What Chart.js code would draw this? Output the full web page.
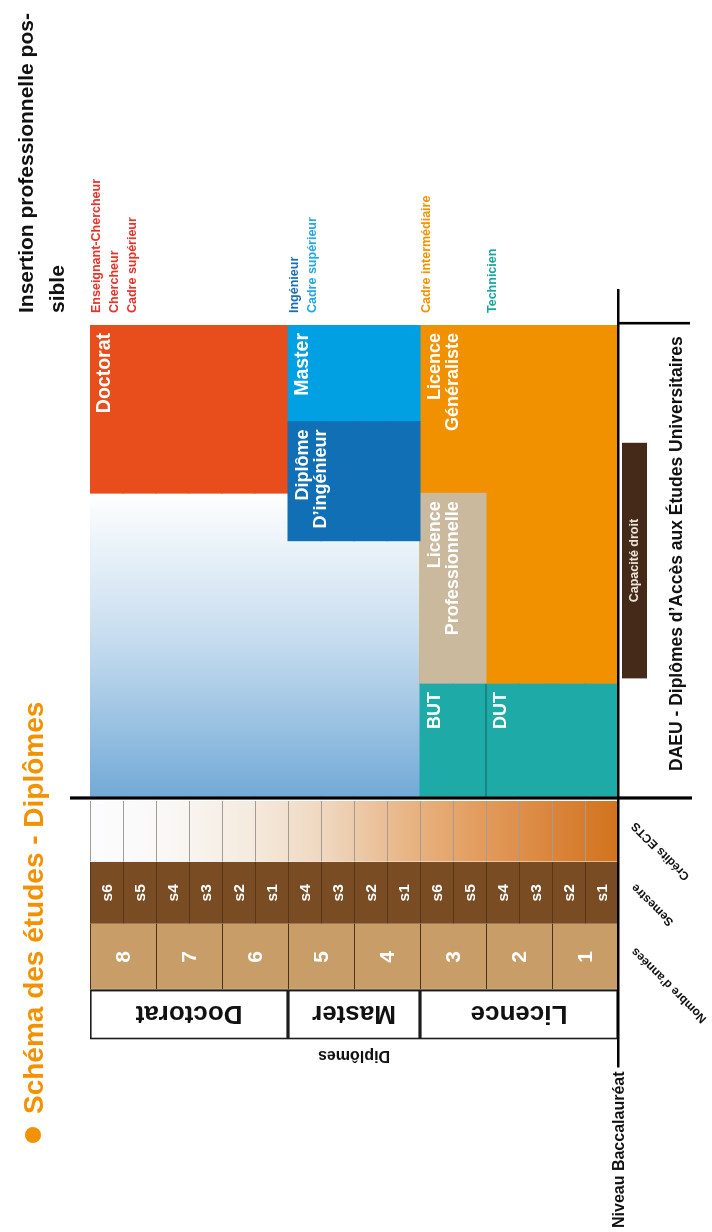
<!DOCTYPE html>
<html><head><meta charset="utf-8">
<script src="https://cdn.jsdelivr.net/npm/chart.js@4.4.1/dist/chart.umd.min.js"></script>
<style>
html,body{margin:0;padding:0;background:#fff;}
body{width:712px;height:1232px;overflow:hidden;position:relative;}
#wrap{position:absolute;left:0;top:0;width:1232px;height:712px;transform-origin:0 0;transform:translate(0,1232px) rotate(-90deg);}
canvas{display:block;}
</style></head><body>
<div id="wrap"><canvas id="c" width="1232" height="712"></canvas></div>
<script>
// ---------- DATA ----------
// vertical levels, bottom to top (two access routes below the baccalaureate, then 16 semesters)
const levels = ['DAEU','Capacité droit','S1','S2','S3','S4','S5','S6','S7','S8','S9','S10','S11','S12','S13','S14','S15','S16'];
const semesterLabels = ['s1','s2','s3','s4','s5','s6','s1','s2','s3','s4','s1','s2','s3','s4','s5','s6'];
const yearLabels = ['1','2','3','4','5','6','7','8'];
const diplomaNames = ['Licence','Master','Doctorat'];
const diplomaFirstSem = [1,7,11];
const diplomaLastSem = [6,10,16];
const programNames = ['DUT','BUT','Licence\nProfessionnelle','Licence\nGénéraliste','Diplôme\nD’ingénieur','Master','Doctorat'];
const programFirstSem = [1,5,5,1,7,7,11];
const programLastSem = [4,6,6,6,10,10,16];
const programFrom = [0,0,23.8,23.8,54.2,79.5,64.3];
const programTo = [23.8,23.8,64.3,100,79.5,100,100];
const pursuitSem = [7,16];
const pursuitRange = [0,64.3];
const capaciteRange = [25,75];
const careerGroups = [['Enseignant-Chercheur','Chercheur','Cadre supérieur'],['Ingénieur','Cadre supérieur'],['Cadre intermédiaire'],['Technicien']];
const careerTopSem = [16,10,6,4];
const tableColumns = ['Diplômes','Nombre d’années','Semestre','Crédits ECTS'];
const tableFrom = [-51.6,-41.1,-27.1,-13.9];
const tableTo = [-41.1,-27.1,-13.9,-1.0];

// ---------- STYLE ----------
const FONT = "'Liberation Sans', Arial, Helvetica, sans-serif";
const programColors = ['#1eaaa6','#1eaaa6','#cab99d','#f29100','#116fb6','#00a0e2','#e84e1b'];
const programOrder = [6,6,6,8,5,5,5];
const careerColors = [['#e5332a','#e5332a','#e5332a'],['#1a6db4','#25a6e0'],['#f39200'],['#19a49d']];

const semIdx = s => s + 1; // index of semester in levels
function span(first, last, range){
  return levels.map((l,i)=> (i>=semIdx(first) && i<=semIdx(last)) ? range.slice() : null);
}

function hGradient(ctx){
  const ch = ctx.chart; const x = ch.scales.x;
  if(!ch.chartArea) return '#a9cbe7';
  const g = ch.ctx.createLinearGradient(x.getPixelForValue(pursuitRange[0]),0,x.getPixelForValue(pursuitRange[1]),0);
  g.addColorStop(0,'#73aad7'); g.addColorStop(0.5,'#c4dbee'); g.addColorStop(1,'#ffffff');
  return g;
}
function ectsGradient(ctx){
  const ch = ctx.chart; const y = ch.scales.y;
  if(!ch.chartArea) return '#e6a770';
  const slot = y.getPixelForValue(0)-y.getPixelForValue(1);
  const top = y.getPixelForValue(semIdx(16))-slot/2, bot = y.getPixelForValue(semIdx(1))+slot/2;
  const g = ch.ctx.createLinearGradient(0,top,0,bot);
  g.addColorStop(0,'#fbfcfd'); g.addColorStop(0.13,'#faf9f8'); g.addColorStop(0.3,'#f5ebdf');
  g.addColorStop(0.45,'#efd6bd'); g.addColorStop(0.6,'#e8b585'); g.addColorStop(0.75,'#e29a5a');
  g.addColorStop(0.88,'#da843b'); g.addColorStop(1,'#d2731d');
  return g;
}

const datasets = [];
datasets.push({label:'Poursuite', data: span(pursuitSem[0],pursuitSem[1],pursuitRange), backgroundColor: hGradient, order: 10, inflateAmount:0.4});
programNames.forEach((n,i)=>{
  datasets.push({label:n, data: span(programFirstSem[i],programLastSem[i],[programFrom[i],programTo[i]]),
    backgroundColor: programColors[i], order: programOrder[i], inflateAmount:0.4});
});
datasets.push({label:'Capacité droit', data: levels.map((l,i)=> i===1 ? capaciteRange.slice() : null), backgroundColor:'#452a19', barPercentage:0.76, order:4});
// table columns
datasets.push({label:'Crédits ECTS', data: span(1,16,[tableFrom[3],tableTo[3]]), backgroundColor: ectsGradient,
  borderColor:'#a39c95', borderSkipped:false, borderWidth:{top:1,bottom:0,left:0,right:0}, inflateAmount:0, order:3});
datasets.push({label:'Semestre', data: span(1,16,[tableFrom[2],tableTo[2]]), backgroundColor:'#7a4c23',
  borderColor:'#573517', borderSkipped:false, borderWidth:{top:1,bottom:0,left:0,right:0}, inflateAmount:0, order:3});
datasets.push({label:'Nombre d’années', yAxisID:'yYear', data: [null].concat(yearLabels.map(()=>[tableFrom[1],tableTo[1]])),
  backgroundColor:'#c99d67', borderColor:'#4a3420', borderSkipped:false, borderWidth:{top:1,bottom:0,left:1,right:0}, inflateAmount:0, order:3});
datasets.push({label:'Diplômes', data: span(1,16,[tableFrom[0],tableTo[0]]), backgroundColor:'#ffffff', order:3});

// ---------- OVERLAY (lines + texts) ----------
const overlay = {
  id:'overlay',
  afterDatasetsDraw(chart){
    const {ctx, scales:{x,y,yYear}, chartArea:ca} = chart;
    const slot = y.getPixelForValue(0)-y.getPixelForValue(1);
    const semTop = s => y.getPixelForValue(semIdx(s))-slot/2;
    const semBot = s => y.getPixelForValue(semIdx(s))+slot/2;
    const base = semBot(1)+0.3;
    ctx.save();
    // diploma cell frames
    ctx.strokeStyle='#1c1c1c'; ctx.lineWidth=1.6;
    diplomaNames.forEach((d,i)=>{
      const x0=x.getPixelForValue(tableFrom[0])+0.8, x1=x.getPixelForValue(tableTo[0])-0.8;
      const t=semTop(diplomaLastSem[i]), b=semBot(diplomaFirstSem[i]);
      ctx.strokeRect(x0, t+0.8, x1-x0, b-t-1.6);
    });
    // BUT / DUT separation
    ctx.strokeStyle='#17625e'; ctx.lineWidth=1;
    ctx.beginPath(); ctx.moveTo(x.getPixelForValue(programFrom[0]), semTop(programLastSem[0])); ctx.lineTo(x.getPixelForValue(programTo[0]), semTop(programLastSem[0])); ctx.stroke();

    // lines
    ctx.strokeStyle='#000'; ctx.lineCap='butt';
    ctx.font = 'bold 16px '+FONT;
    const nivW = ctx.measureText('Niveau Baccalauréat').width;
    ctx.lineWidth=2.6; ctx.beginPath(); ctx.moveTo(8+nivW, base); ctx.lineTo(x.getPixelForValue(100)+36, base); ctx.stroke();
    ctx.lineWidth=3.2; ctx.beginPath(); const x0=x.getPixelForValue(0)-1.8; ctx.moveTo(x0, ca.top-20); ctx.lineTo(x0, ca.bottom+8); ctx.stroke();
    ctx.lineWidth=2.6; ctx.beginPath(); const x1=x.getPixelForValue(100)+1.8; ctx.moveTo(x1, base); ctx.lineTo(x1, ca.bottom+6); ctx.stroke();

    // Niveau Baccalauréat
    ctx.fillStyle='#111'; ctx.textBaseline='middle'; ctx.textAlign='left';
    ctx.fillText('Niveau Baccalauréat', 4, base+1);

    // program labels
    programNames.forEach((n,i)=>{
      const lines = n.split('\n');
      const right = x.getPixelForValue(programTo[i]) - 8;
      const top = semTop(programLastSem[i]);
      ctx.fillStyle='#fff'; ctx.textAlign='right'; ctx.textBaseline='middle';
      ctx.font = (i>=5 ? 'bold 19.5px ' : 'bold 18px ')+FONT;
      lines.forEach((ln,k)=> ctx.fillText(ln, right, top+15+k*18.5));
    });
    // capacité droit
    ctx.font='bold 12.5px '+FONT; ctx.fillStyle='#efe5da'; ctx.textAlign='center';
    ctx.fillText('Capacité droit', x.getPixelForValue((capaciteRange[0]+capaciteRange[1])/2), y.getPixelForValue(1));
    // DAEU
    ctx.font='bold 17.5px '+FONT; ctx.fillStyle='#111';
    ctx.fillText('DAEU - Diplômes d’Accès aux Études Universitaires', x.getPixelForValue(50)+7, y.getPixelForValue(0)+10);

    // table: semesters
    const cx = k => (x.getPixelForValue(tableFrom[k])+x.getPixelForValue(tableTo[k]))/2;
    ctx.fillStyle='#fff'; ctx.font='bold 15.5px '+FONT;
    semesterLabels.forEach((s,i)=> ctx.fillText(s, cx(2), y.getPixelForValue(semIdx(i+1))+1));
    ctx.font='bold 21px '+FONT;
    yearLabels.forEach((s,i)=> ctx.fillText(s, cx(1), yYear.getPixelForValue(i+1)+1));
    // diplomas (rotated)
    ctx.fillStyle='#111'; ctx.font='bold 26px '+FONT;
    diplomaNames.forEach((d,i)=>{
      const cy = (semTop(diplomaLastSem[i])+semBot(diplomaFirstSem[i]))/2;
      ctx.save(); ctx.translate(cx(0)+1, cy); ctx.rotate(-Math.PI/2); ctx.fillText(d,0,0); ctx.restore();
    });
    // axis-like title Diplômes
    ctx.font='bold 16px '+FONT;
    ctx.save(); ctx.translate(x.getPixelForValue(tableFrom[0])-16, (semTop(16)+semBot(1))/2); ctx.rotate(-Math.PI/2); ctx.fillText(tableColumns[0],0,0); ctx.restore();
    // rotated column headers
    ctx.font='bold 12px '+FONT; ctx.textAlign='right'; ctx.textBaseline='top';
    for(let k=1;k<4;k++){
      ctx.save(); ctx.translate(cx(k)+3, base+11); ctx.rotate(-Math.PI/4); ctx.fillText(tableColumns[k],0,0); ctx.restore();
    }

    // careers
    const left = x.getPixelForValue(100)+12;
    ctx.textAlign='left'; ctx.textBaseline='alphabetic'; ctx.font='bold 12.5px '+FONT;
    careerGroups.forEach((g,gi)=>{
      const top = semTop(careerTopSem[gi]);
      g.forEach((t,k)=>{ ctx.fillStyle=careerColors[gi][k]; ctx.fillText(t, left, top+10+k*17.8); });
    });
    // Insertion professionnelle
    ctx.fillStyle='#111'; ctx.font='bold 21px '+FONT;
    ctx.fillText('Insertion professionnelle pos-', left, 33);
    ctx.fillText('sible', left, 64);

    // main title
    ctx.fillStyle='#f39200';
    ctx.beginPath(); ctx.arc(97, 33, 8, 0, Math.PI*2); ctx.fill();
    ctx.font='bold 28px '+FONT; ctx.textBaseline='alphabetic';
    ctx.fillText('Schéma des études - Diplômes', 118, 43);
    ctx.restore();
  }
};

new Chart(document.getElementById('c'), {
  type:'bar',
  data:{labels: levels, datasets},
  options:{
    indexAxis:'y', responsive:false, animation:false, devicePixelRatio:1,
    datasets:{bar:{grouped:false, categoryPercentage:1, barPercentage:1}},
    layout:{padding:{left:192.7, right:325, top:90, bottom:28}},
    scales:{
      x:{type:'linear', min:-51.6, max:100, display:false},
      y:{type:'category', labels: levels, reverse:true, display:false},
      yYear:{type:'category', labels:[''].concat(yearLabels), reverse:true, display:false}
    },
    plugins:{legend:{display:false}, tooltip:{enabled:false}, title:{display:false}}
  },
  plugins:[overlay]
});
</script>
</body></html>
